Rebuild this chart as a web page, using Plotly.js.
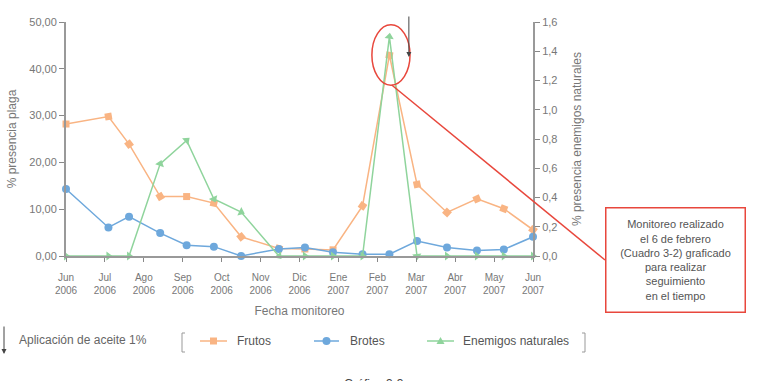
<!DOCTYPE html>
<html>
<head>
<meta charset="utf-8">
<script src="https://cdn.plot.ly/plotly-3.0.1.min.js"></script>
<style>html,body{margin:0;padding:0;background:#fff;}#chart{width:758px;height:381px;}</style>
</head>
<body>
<div id="chart"></div>
<script>
// Month labels of the x axis (Jun 2006 .. Jun 2007)
const monthLabels = ["Jun<br>2006","Jul<br>2006","Ago<br>2006","Sep<br>2006","Oct<br>2006","Nov<br>2006","Dic<br>2006","Ene<br>2007","Feb<br>2007","Mar<br>2007","Abr<br>2007","May<br>2007","Jun<br>2007"];
const monthTicks = [0,1,2,3,4,5,6,7,8,9,10,11,12];
// Monitoring dates, in months since 1 Jun 2006
const fechaMonitoreo = [0, 1.09, 1.62, 2.42, 3.10, 3.80, 4.50, 5.47, 6.14, 6.86, 7.62, 8.31, 9.02, 9.79, 10.56, 11.25, 12.0];
// % presencia plaga
const frutos = [28.2, 29.8, 23.9, 12.7, 12.7, 11.3, 4.1, 1.6, 1.5, 1.3, 10.7, 42.9, 15.3, 9.3, 12.2, 10.1, 5.6];
const brotes = [14.3, 6.1, 8.4, 4.9, 2.3, 2.0, 0.0, 1.5, 1.8, 0.8, 0.4, 0.4, 3.2, 1.8, 1.2, 1.4, 4.1];
// % presencia enemigos naturales (right axis)
const enemigos = [0, 0, 0, 0.63, 0.79, 0.39, 0.30, 0, 0, 0, 0, 1.50, 0, 0, 0, 0, 0];
// Oil application (arrow) date, months since 1 Jun 2006
const aplicacionAceite = [8.81];
const seriesNames = ["Frutos", "Brotes", "Enemigos naturales"];

const cOrange = "#f9b483", cBlue = "#6ea8dc", cGreen = "#8fd49c", cRed = "#e8473c";
const font = "Liberation Sans, Arial, sans-serif";

const traces = [
  {x: fechaMonitoreo, y: frutos, name: seriesNames[0], type: "scatter", mode: "lines+markers",
   line: {color: cOrange, width: 1.5}, marker: {symbol: "square", size: 7, color: cOrange, angleref: "previous"},
   cliponaxis: false, yaxis: "y"},
  {x: fechaMonitoreo.slice(0, 1), y: frutos.slice(0, 1), type: "scatter", mode: "markers", showlegend: false,
   marker: {symbol: "square", size: 7, color: cOrange}, cliponaxis: false, yaxis: "y"},
  {x: fechaMonitoreo, y: brotes, name: seriesNames[1], type: "scatter", mode: "lines+markers",
   line: {color: cBlue, width: 1.5}, marker: {symbol: "circle", size: 8, color: cBlue},
   cliponaxis: false, yaxis: "y"},
  {x: fechaMonitoreo, y: enemigos, name: seriesNames[2], type: "scatter", mode: "lines+markers",
   line: {color: cGreen, width: 1.5}, marker: {symbol: "triangle-up", size: 8, color: cGreen, angleref: "previous"},
   cliponaxis: false, yaxis: "y2"},
  {x: fechaMonitoreo.slice(0, 1), y: enemigos.slice(0, 1), type: "scatter", mode: "markers", showlegend: false,
   marker: {symbol: "triangle-right", size: 8, color: cGreen}, cliponaxis: false, yaxis: "y2"}
];

const L = 66, R = 533, T = 22, B = 256;
const px = v => (v - L) / (R - L);
const py = v => (B - v) / (B - T);

// manual legend (samples + labels)
const legY = 341;
const legItems = [
  {lx0: 200, lx1: 227, text: 235, color: cOrange, kind: "square"},
  {lx0: 314, lx1: 339, text: 348, color: cBlue, kind: "circle"},
  {lx0: 427, lx1: 454, text: 461, color: cGreen, kind: "triangle"}
];
const legShapes = [], legAnn = [];
legItems.forEach((it, i) => {
  legShapes.push({type: "line", xref: "paper", yref: "paper", x0: px(it.lx0), x1: px(it.lx1), y0: py(legY), y1: py(legY),
                  line: {color: it.color, width: 1.5}});
  const cx = px((it.lx0 + it.lx1) / 2), cy = py(legY);
  const base = {xref: "paper", yref: "paper", xsizemode: "pixel", ysizemode: "pixel", xanchor: cx, yanchor: cy,
                fillcolor: it.color, line: {color: it.color, width: 0}};
  if (it.kind === "square") legShapes.push(Object.assign({type: "rect", x0: -3.5, x1: 3.5, y0: -3.5, y1: 3.5}, base));
  if (it.kind === "circle") legShapes.push(Object.assign({type: "circle", x0: -4, x1: 4, y0: -4, y1: 4}, base));
  if (it.kind === "triangle") legShapes.push(Object.assign({type: "path", path: "M -4 -3 L 4 -3 L 0 4 Z"}, base));
  legAnn.push({x: px(it.text), xref: "paper", y: py(legY), yref: "paper", xanchor: "left", yanchor: "middle",
               showarrow: false, text: seriesNames[i], font: {size: 12, color: "#555"}});
});

const layout = {
  width: 758, height: 381,
  margin: {l: 66, r: 225, t: 22, b: 125, pad: 0},
  paper_bgcolor: "#fff", plot_bgcolor: "#fff",
  separators: ",.",
  font: {family: font, color: "#666", size: 11},
  showlegend: false,
  xaxis: {range: [0, 12], tickvals: monthTicks, ticktext: monthLabels, ticks: "outside", ticklen: 4,
          tickcolor: "#888", showline: true, linecolor: "#999", linewidth: 1.5, showgrid: false, zeroline: false,
          tickfont: {size: 10, color: "#777"}, ticklabelstandoff: 7,
          title: {text: "Fecha monitoreo", font: {size: 12, color: "#777"}, standoff: 12}},
  yaxis: {range: [0, 50], dtick: 10, tickformat: ".2f", ticks: "outside", ticklen: 5, tickcolor: "#888",
          showline: true, linecolor: "#999", linewidth: 2, showgrid: false, zeroline: false,
          tickfont: {size: 11, color: "#777"},
          title: {text: "% presencia plaga", font: {size: 12, color: "#777"}, standoff: 10}},
  yaxis2: {range: [0, 1.6], dtick: 0.2, tickformat: ".1f", overlaying: "y", side: "right", ticks: "outside",
           ticklen: 5, tickcolor: "#888", showline: true, linecolor: "#999", linewidth: 2, showgrid: false,
           zeroline: false, tickfont: {size: 11, color: "#777"},
           title: {text: "% presencia enemigos naturales", font: {size: 12, color: "#777"}, standoff: 16}},
  shapes: [
    {type: "circle", xref: "x", yref: "y", x0: 7.86, x1: 8.84, y0: 36.5, y1: 49.4, line: {color: cRed, width: 1.5}},
    {type: "line", xref: "paper", yref: "paper", x0: px(391.7), y0: py(85), x1: px(605), y1: py(260), line: {color: cRed, width: 1.5}},
    {type: "path", xref: "paper", yref: "paper", path: `M ${px(185)} ${py(333)} L ${px(182)} ${py(333)} L ${px(182)} ${py(352)} L ${px(185)} ${py(352)}`, line: {color: "#999", width: 1}},
    {type: "path", xref: "paper", yref: "paper", path: `M ${px(582)} ${py(333)} L ${px(585)} ${py(333)} L ${px(585)} ${py(352)} L ${px(582)} ${py(352)}`, line: {color: "#999", width: 1}}
  ].concat(legShapes),
  annotations: [
    {x: aplicacionAceite[0], xref: "x", y: py(57), yref: "paper", ax: 0, ay: -42, showarrow: true, text: "",
     arrowhead: 2, arrowsize: 1, arrowwidth: 1, arrowcolor: "#444"},
    {x: px(4), xref: "paper", y: py(354), yref: "paper", ax: 0, ay: -29, showarrow: true, text: "",
     arrowhead: 2, arrowsize: 1, arrowwidth: 1, arrowcolor: "#444"},
    {x: px(17), xref: "paper", y: py(340), yref: "paper", xanchor: "left", yanchor: "middle", showarrow: false,
     text: "Aplicación de aceite 1%", font: {size: 12, color: "#666"}},
    {x: px(675.5), xref: "paper", y: py(260), yref: "paper", xanchor: "center", yanchor: "middle", showarrow: false,
     text: "Monitoreo realizado<br>el 6 de febrero<br>(Cuadro 3-2) graficado<br>para realizar<br>seguimiento<br>en el tiempo",
     font: {size: 11, color: "#555"}, bordercolor: cRed, borderwidth: 1.5, borderpad: 0, bgcolor: "#fff",
     width: 138, height: 103, align: "center"},
    {x: px(374), xref: "paper", y: py(384), yref: "paper", xanchor: "center", yanchor: "middle", showarrow: false,
     text: "Gráfico 3-3", font: {size: 12, color: "#444"}}
  ].concat(legAnn)
};

Plotly.newPlot("chart", traces, layout, {displayModeBar: false, staticPlot: true});
</script>
</body>
</html>
